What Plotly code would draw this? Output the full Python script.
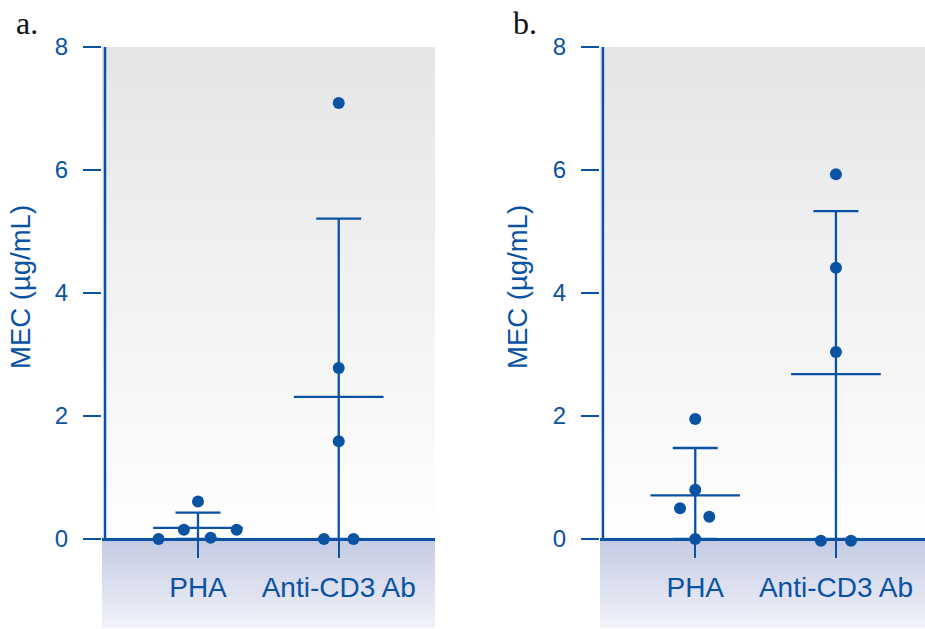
import base64
import plotly.graph_objects as go

# ---------------- data ----------------
groups = ["PHA", "Anti-CD3 Ab"]
group_pos = [0, 1]

a_pha = [0.0, 0.15, 0.61, 0.02, 0.15]
a_cd3 = [7.09, 2.78, 1.59, 0.0, 0.0]
b_pha = [0.0, 0.80, 0.50, 0.36, 1.95]
b_cd3 = [5.93, 4.41, 3.04, -0.03, -0.03]

a_mean = [0.18, 2.31]
a_upper = [0.43, 5.21]
b_mean = [0.71, 2.68]
b_upper = [1.48, 5.33]

y_ticks = [0, 2, 4, 6, 8]

# horizontal jitter of the dots (category units)
a_pha_jit = [-0.28, -0.10, 0.0, 0.09, 0.275]
a_cd3_jit = [0.0, 0.0, 0.0, -0.105, 0.105]
b_pha_jit = [0.0, 0.0, -0.108, 0.10, 0.0]
b_cd3_jit = [0.0, 0.0, 0.0, -0.107, 0.107]

# ---------------- style ----------------
BLUE = "#0a52a2"
W, H = 925, 629
SANS = "Liberation Sans, Arial, sans-serif"
SERIF = "Liberation Serif, Times New Roman, serif"


def grad_uri(top, bottom):
    svg = (
        '<svg xmlns="http://www.w3.org/2000/svg" width="100" height="100" '
        'preserveAspectRatio="none"><defs><linearGradient id="g" x1="0" y1="0" '
        'x2="0" y2="1"><stop offset="0" stop-color="%s"/><stop offset="1" '
        'stop-color="%s"/></linearGradient></defs><rect width="100" height="100" '
        'fill="url(#g)"/></svg>' % (top, bottom)
    )
    return "data:image/svg+xml;base64," + base64.b64encode(svg.encode()).decode()


UPPER = grad_uri("#e4e5e7", "#ffffff")
LOWER = grad_uri("#c4cae3", "#f1f2f9")

fig = go.Figure()

Y0_PX, Y8_PX, YB_PX = 539, 47, 628
ppu = (Y0_PX - Y8_PX) / 8.0
y_range = [-(YB_PX - Y0_PX) / ppu, 8.0]
y_dom = [1 - YB_PX / H, 1 - Y8_PX / H]
zero_pos = 1 - Y0_PX / H

panels = [
    dict(xa="x", ya="y", pts=[a_pha, a_cd3], jit=[a_pha_jit, a_cd3_jit],
         mean=a_mean, upper=a_upper, dom=[102 / W, 435 / W],
         xr=[-0.682, 1.684], title_x=20, label="a.", label_x=14),
    dict(xa="x2", ya="y2", pts=[b_pha, b_cd3], jit=[b_pha_jit, b_cd3_jit],
         mean=b_mean, upper=b_upper, dom=[600 / W, 1.0],
         xr=[-0.677, 1.633], title_x=517, label="b.", label_x=511),
]

images, shapes, annotations = [], [], []
for i, p in enumerate(panels):
    xa, ya = p["xa"], p["ya"]
    # dots
    for g in range(2):
        fig.add_trace(go.Scatter(
            x=[group_pos[g] + j for j in p["jit"][g]], y=p["pts"][g],
            mode="markers", xaxis=xa, yaxis=ya,
            marker=dict(color=BLUE, size=12), showlegend=False, hoverinfo="y"))
    # mean line + upper SD bar (down to zero)
    fig.add_trace(go.Scatter(
        x=group_pos, y=p["mean"], mode="markers", xaxis=xa, yaxis=ya,
        marker=dict(symbol="line-ew", size=64, color=BLUE,
                    line=dict(color=BLUE, width=2.3)),
        error_y=dict(type="data", symmetric=False,
                     array=[u - m for u, m in zip(p["upper"], p["mean"])],
                     arrayminus=p["mean"], color=BLUE, thickness=2.3, width=22.5),
        showlegend=False, hoverinfo="y"))

    sfx = "" if i == 0 else "2"
    fig.update_layout({
        "xaxis" + sfx: dict(domain=p["dom"], range=p["xr"], anchor="free",
                            position=zero_pos, tickvals=group_pos, ticktext=groups,
                            ticks="outside", ticklen=18, tickwidth=2.3, tickcolor=BLUE,
                            showline=False, showgrid=False, zeroline=False,
                            automargin=False, ticklabelstandoff=5,
                            tickfont=dict(family=SANS, size=28, color=BLUE),
                            fixedrange=True),
        "yaxis" + sfx: dict(domain=y_dom, range=y_range, anchor=xa,
                            tickvals=y_ticks, ticks="outside", ticklen=18,
                            tickwidth=2.3, tickcolor=BLUE, showline=False,
                            showgrid=False, zeroline=True, zerolinecolor=BLUE,
                            zerolinewidth=2.5, ticklabelstandoff=10,
                            automargin=False,
                            tickfont=dict(family=SANS, size=24, color=BLUE),
                            fixedrange=True),
    })

    images.append(dict(source=UPPER, xref=xa + " domain", yref=ya, x=0, y=8.0,
                       sizex=1, sizey=8.0, sizing="stretch", layer="below",
                       xanchor="left", yanchor="top"))
    images.append(dict(source=LOWER, xref=xa + " domain", yref=ya, x=0, y=0,
                       sizex=1, sizey=-y_range[0], sizing="stretch",
                       layer="below", xanchor="left", yanchor="top"))
    shapes.append(dict(type="line", xref=xa + " domain", yref=ya,
                       x0=3 / 333, x1=3 / 333, y0=0, y1=8.05,
                       line=dict(color=BLUE, width=2.5)))
    annotations.append(dict(text="MEC (µg/mL)", textangle=-90, xref="paper",
                            yref="paper", x=p["title_x"] / W, y=1 - 287 / H,
                            showarrow=False, xanchor="center", yanchor="middle",
                            font=dict(family=SANS, size=27.5, color=BLUE)))
    annotations.append(dict(text=p["label"], xref="paper", yref="paper",
                            x=p["label_x"] / W, y=1 - 3 / H, showarrow=False,
                            xanchor="left", yanchor="top",
                            font=dict(family=SERIF, size=32, color="#111111")))

fig.update_layout(width=W, height=H, margin=dict(l=0, r=0, t=0, b=0, pad=0),
                  paper_bgcolor="white", plot_bgcolor="rgba(0,0,0,0)",
                  images=images, shapes=shapes, annotations=annotations,
                  showlegend=False)

fig.write_html(
    "out.html",
    config={"displayModeBar": False},
    post_script="document.body.style.margin='0';document.body.style.overflow='hidden';",
)
